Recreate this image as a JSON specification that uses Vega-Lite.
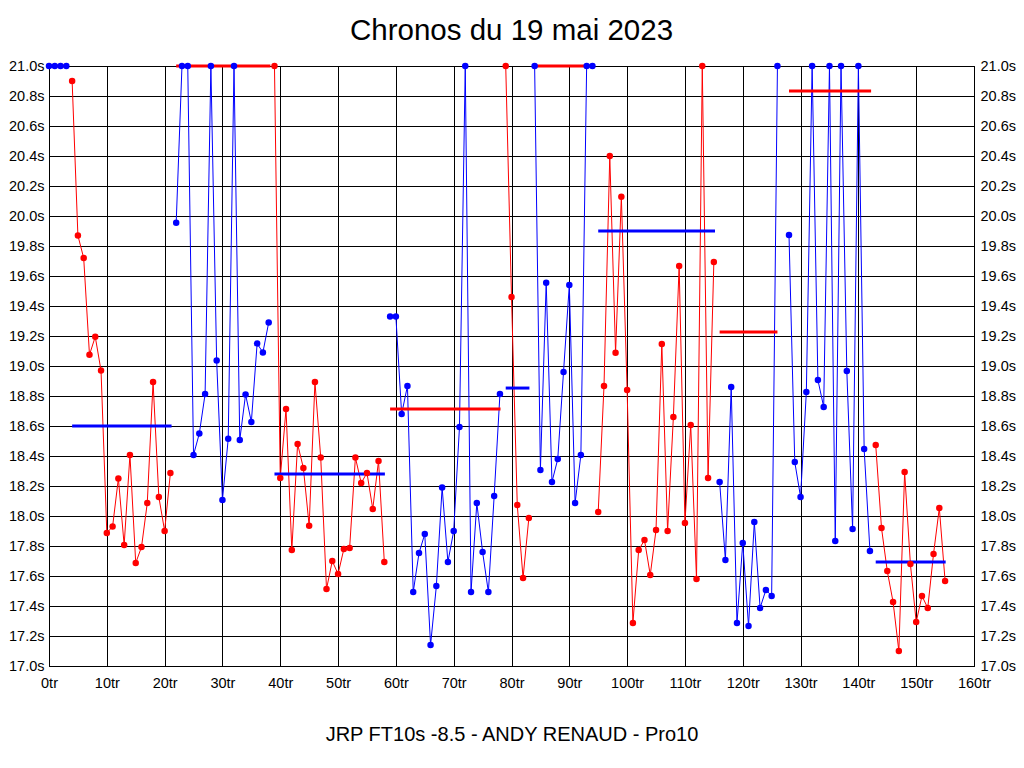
{
  "$schema": "https://vega.github.io/schema/vega-lite/v6.json",
  "width": 925,
  "height": 600,
  "autosize": {"type": "none"},
  "padding": {"left": 49, "top": 66, "right": 50, "bottom": 102},
  "background": "white",
  "title": {"text": "Chronos du 19 mai 2023", "font": "Liberation Sans", "fontSize": 29.5, "fontWeight": "normal", "color": "black", "frame": "group", "anchor": "middle", "baseline": "alphabetic", "offset": 25, "dy": 36},
  "config": {
    "view": {"stroke": "black", "strokeWidth": 1},
    "axis": {"labelFont": "Liberation Sans", "labelFontSize": 14.5, "labelColor": "black", "domainColor": "black", "domainWidth": 1, "gridColor": "black", "gridOpacity": 1, "gridWidth": 1, "ticks": false, "labelFlush": false, "labelOverlap": false}
  },
  "datasets": {
    "pts": [
      {"lap":0,"t":21.0,"seg":0,"c":"b"},{"lap":1,"t":21.0,"seg":0,"c":"b"},{"lap":2,"t":21.0,"seg":0,"c":"b"},{"lap":3,"t":21.0,"seg":0,"c":"b"},
      {"lap":4,"t":20.90,"seg":1,"c":"r"},{"lap":5,"t":19.87,"seg":1,"c":"r"},{"lap":6,"t":19.72,"seg":1,"c":"r"},{"lap":7,"t":19.075,"seg":1,"c":"r"},{"lap":8,"t":19.195,"seg":1,"c":"r"},{"lap":9,"t":18.97,"seg":1,"c":"r"},{"lap":10,"t":17.887,"seg":1,"c":"r"},{"lap":11,"t":17.93,"seg":1,"c":"r"},{"lap":12,"t":18.25,"seg":1,"c":"r"},{"lap":13,"t":17.807,"seg":1,"c":"r"},{"lap":14,"t":18.407,"seg":1,"c":"r"},{"lap":15,"t":17.687,"seg":1,"c":"r"},{"lap":16,"t":17.793,"seg":1,"c":"r"},{"lap":17,"t":18.087,"seg":1,"c":"r"},{"lap":18,"t":18.893,"seg":1,"c":"r"},{"lap":19,"t":18.127,"seg":1,"c":"r"},{"lap":20,"t":17.90,"seg":1,"c":"r"},{"lap":21,"t":18.287,"seg":1,"c":"r"},
      {"lap":22,"t":19.955,"seg":2,"c":"b"},{"lap":23,"t":21.0,"seg":2,"c":"b"},{"lap":24,"t":21.0,"seg":2,"c":"b"},{"lap":25,"t":18.407,"seg":2,"c":"b"},{"lap":26,"t":18.55,"seg":2,"c":"b"},{"lap":27,"t":18.813,"seg":2,"c":"b"},{"lap":28,"t":21.0,"seg":2,"c":"b"},{"lap":29,"t":19.037,"seg":2,"c":"b"},{"lap":30,"t":18.107,"seg":2,"c":"b"},{"lap":31,"t":18.515,"seg":2,"c":"b"},{"lap":32,"t":21.0,"seg":2,"c":"b"},{"lap":33,"t":18.507,"seg":2,"c":"b"},{"lap":34,"t":18.81,"seg":2,"c":"b"},{"lap":35,"t":18.627,"seg":2,"c":"b"},{"lap":36,"t":19.15,"seg":2,"c":"b"},{"lap":37,"t":19.09,"seg":2,"c":"b"},{"lap":38,"t":19.29,"seg":2,"c":"b"},
      {"lap":39,"t":21.0,"seg":3,"c":"r"},{"lap":40,"t":18.253,"seg":3,"c":"r"},{"lap":41,"t":18.713,"seg":3,"c":"r"},{"lap":42,"t":17.773,"seg":3,"c":"r"},{"lap":43,"t":18.48,"seg":3,"c":"r"},{"lap":44,"t":18.32,"seg":3,"c":"r"},{"lap":45,"t":17.935,"seg":3,"c":"r"},{"lap":46,"t":18.893,"seg":3,"c":"r"},{"lap":47,"t":18.39,"seg":3,"c":"r"},{"lap":48,"t":17.513,"seg":3,"c":"r"},{"lap":49,"t":17.70,"seg":3,"c":"r"},{"lap":50,"t":17.613,"seg":3,"c":"r"},{"lap":51,"t":17.78,"seg":3,"c":"r"},{"lap":52,"t":17.787,"seg":3,"c":"r"},{"lap":53,"t":18.39,"seg":3,"c":"r"},{"lap":54,"t":18.22,"seg":3,"c":"r"},{"lap":55,"t":18.287,"seg":3,"c":"r"},{"lap":56,"t":18.047,"seg":3,"c":"r"},{"lap":57,"t":18.367,"seg":3,"c":"r"},{"lap":58,"t":17.693,"seg":3,"c":"r"},
      {"lap":59,"t":19.33,"seg":4,"c":"b"},{"lap":60,"t":19.33,"seg":4,"c":"b"},{"lap":61,"t":18.68,"seg":4,"c":"b"},{"lap":62,"t":18.867,"seg":4,"c":"b"},{"lap":63,"t":17.493,"seg":4,"c":"b"},{"lap":64,"t":17.753,"seg":4,"c":"b"},{"lap":65,"t":17.88,"seg":4,"c":"b"},{"lap":66,"t":17.14,"seg":4,"c":"b"},{"lap":67,"t":17.533,"seg":4,"c":"b"},{"lap":68,"t":18.19,"seg":4,"c":"b"},{"lap":69,"t":17.693,"seg":4,"c":"b"},{"lap":70,"t":17.90,"seg":4,"c":"b"},{"lap":71,"t":18.593,"seg":4,"c":"b"},{"lap":72,"t":21.0,"seg":4,"c":"b"},{"lap":73,"t":17.493,"seg":4,"c":"b"},{"lap":74,"t":18.087,"seg":4,"c":"b"},{"lap":75,"t":17.76,"seg":4,"c":"b"},{"lap":76,"t":17.493,"seg":4,"c":"b"},{"lap":77,"t":18.133,"seg":4,"c":"b"},{"lap":78,"t":18.813,"seg":4,"c":"b"},
      {"lap":79,"t":21.0,"seg":5,"c":"r"},{"lap":80,"t":19.46,"seg":5,"c":"r"},{"lap":81,"t":18.073,"seg":5,"c":"r"},{"lap":82,"t":17.587,"seg":5,"c":"r"},{"lap":83,"t":17.987,"seg":5,"c":"r"},
      {"lap":84,"t":21.0,"seg":6,"c":"b"},{"lap":85,"t":18.307,"seg":6,"c":"b"},{"lap":86,"t":19.555,"seg":6,"c":"b"},{"lap":87,"t":18.227,"seg":6,"c":"b"},{"lap":88,"t":18.38,"seg":6,"c":"b"},{"lap":89,"t":18.96,"seg":6,"c":"b"},{"lap":90,"t":19.54,"seg":6,"c":"b"},{"lap":91,"t":18.087,"seg":6,"c":"b"},{"lap":92,"t":18.407,"seg":6,"c":"b"},{"lap":93,"t":21.0,"seg":6,"c":"b"},{"lap":94,"t":21.0,"seg":6,"c":"b"},
      {"lap":95,"t":18.027,"seg":7,"c":"r"},{"lap":96,"t":18.867,"seg":7,"c":"r"},{"lap":97,"t":20.40,"seg":7,"c":"r"},{"lap":98,"t":19.089,"seg":7,"c":"r"},{"lap":99,"t":20.129,"seg":7,"c":"r"},{"lap":100,"t":18.84,"seg":7,"c":"r"},{"lap":101,"t":17.287,"seg":7,"c":"r"},{"lap":102,"t":17.773,"seg":7,"c":"r"},{"lap":103,"t":17.84,"seg":7,"c":"r"},{"lap":104,"t":17.607,"seg":7,"c":"r"},{"lap":105,"t":17.907,"seg":7,"c":"r"},{"lap":106,"t":19.147,"seg":7,"c":"r"},{"lap":107,"t":17.90,"seg":7,"c":"r"},{"lap":108,"t":18.66,"seg":7,"c":"r"},{"lap":109,"t":19.667,"seg":7,"c":"r"},{"lap":110,"t":17.953,"seg":7,"c":"r"},{"lap":111,"t":18.607,"seg":7,"c":"r"},{"lap":112,"t":17.58,"seg":7,"c":"r"},{"lap":113,"t":21.0,"seg":7,"c":"r"},{"lap":114,"t":18.253,"seg":7,"c":"r"},{"lap":115,"t":19.693,"seg":7,"c":"r"},
      {"lap":116,"t":18.227,"seg":8,"c":"b"},{"lap":117,"t":17.707,"seg":8,"c":"b"},{"lap":118,"t":18.86,"seg":8,"c":"b"},{"lap":119,"t":17.287,"seg":8,"c":"b"},{"lap":120,"t":17.82,"seg":8,"c":"b"},{"lap":121,"t":17.267,"seg":8,"c":"b"},{"lap":122,"t":17.96,"seg":8,"c":"b"},{"lap":123,"t":17.387,"seg":8,"c":"b"},{"lap":124,"t":17.507,"seg":8,"c":"b"},{"lap":125,"t":17.467,"seg":8,"c":"b"},{"lap":126,"t":21.0,"seg":8,"c":"b"},
      {"lap":128,"t":19.873,"seg":9,"c":"b"},{"lap":129,"t":18.36,"seg":9,"c":"b"},{"lap":130,"t":18.127,"seg":9,"c":"b"},{"lap":131,"t":18.827,"seg":9,"c":"b"},{"lap":132,"t":21.0,"seg":9,"c":"b"},{"lap":133,"t":18.907,"seg":9,"c":"b"},{"lap":134,"t":18.727,"seg":9,"c":"b"},{"lap":135,"t":21.0,"seg":9,"c":"b"},{"lap":136,"t":17.833,"seg":9,"c":"b"},{"lap":137,"t":21.0,"seg":9,"c":"b"},{"lap":138,"t":18.967,"seg":9,"c":"b"},{"lap":139,"t":17.913,"seg":9,"c":"b"},{"lap":140,"t":21.0,"seg":9,"c":"b"},{"lap":141,"t":18.447,"seg":9,"c":"b"},{"lap":142,"t":17.767,"seg":9,"c":"b"},
      {"lap":143,"t":18.473,"seg":10,"c":"r"},{"lap":144,"t":17.92,"seg":10,"c":"r"},{"lap":145,"t":17.633,"seg":10,"c":"r"},{"lap":146,"t":17.427,"seg":10,"c":"r"},{"lap":147,"t":17.10,"seg":10,"c":"r"},{"lap":148,"t":18.293,"seg":10,"c":"r"},{"lap":149,"t":17.68,"seg":10,"c":"r"},{"lap":150,"t":17.293,"seg":10,"c":"r"},{"lap":151,"t":17.467,"seg":10,"c":"r"},{"lap":152,"t":17.387,"seg":10,"c":"r"},{"lap":153,"t":17.747,"seg":10,"c":"r"},{"lap":154,"t":18.053,"seg":10,"c":"r"},{"lap":155,"t":17.567,"seg":10,"c":"r"}
    ],
    "avg": [
      {"x1":0,"x2":3,"avg":21.0,"c":"r"},
      {"x1":4,"x2":21.2,"avg":18.60,"c":"b"},
      {"x1":22,"x2":38.3,"avg":21.0,"c":"r"},
      {"x1":39,"x2":58.1,"avg":18.28,"c":"b"},
      {"x1":59,"x2":78.1,"avg":18.713,"c":"r"},
      {"x1":79,"x2":83.1,"avg":18.853,"c":"b"},
      {"x1":84,"x2":94.1,"avg":21.0,"c":"r"},
      {"x1":95,"x2":115.2,"avg":19.90,"c":"b"},
      {"x1":116,"x2":126,"avg":19.227,"c":"r"},
      {"x1":128,"x2":142.2,"avg":20.833,"c":"r"},
      {"x1":143,"x2":155.1,"avg":17.693,"c":"b"}
    ]
  },
  "resolve": {"axis": {"y": "independent"}},
  "layer": [
    {
      "data": {"name": "pts"},
      "mark": {"type": "line", "strokeWidth": 1},
      "encoding": {
        "x": {"field": "lap", "type": "quantitative", "scale": {"domain": [0, 160], "nice": false, "zero": false},
              "axis": {"values": [0,10,20,30,40,50,60,70,80,90,100,110,120,130,140,150,160], "labelExpr": "datum.value + 'tr'", "labelBaseline": "top", "labelPadding": 10, "grid": true,
                       "title": "JRP FT10s -8.5 - ANDY RENAUD - Pro10", "titleFont": "Liberation Sans", "titleFontSize": 20, "titleFontWeight": "normal", "titleColor": "black", "titleBaseline": "alphabetic", "titleY": 74}},
        "y": {"field": "t", "type": "quantitative", "scale": {"domain": [17, 21], "nice": false, "zero": false},
              "axis": {"orient": "left", "values": [17,17.2,17.4,17.6,17.8,18,18.2,18.4,18.6,18.8,19,19.2,19.4,19.6,19.8,20,20.2,20.4,20.6,20.8,21], "labelExpr": "format(datum.value, '.1f') + 's'", "labelPadding": 5, "grid": true, "title": null}},
        "color": {"field": "c", "type": "nominal", "scale": {"domain": ["b", "r"], "range": ["#0000ff", "#ff0000"]}, "legend": null},
        "detail": {"field": "seg", "type": "nominal"},
        "order": {"field": "lap", "type": "quantitative"}
      }
    },
    {
      "data": {"name": "avg"},
      "mark": {"type": "rule", "strokeWidth": 3},
      "encoding": {
        "x": {"field": "x1", "type": "quantitative",
              "axis": {"values": [0,10,20,30,40,50,60,70,80,90,100,110,120,130,140,150,160], "labelExpr": "datum.value + 'tr'", "labelBaseline": "top", "labelPadding": 10, "grid": true,
                       "title": "JRP FT10s -8.5 - ANDY RENAUD - Pro10", "titleFont": "Liberation Sans", "titleFontSize": 20, "titleFontWeight": "normal", "titleColor": "black", "titleBaseline": "alphabetic", "titleY": 74}},
        "x2": {"field": "x2"},
        "y": {"field": "avg", "type": "quantitative", "axis": null},
        "color": {"field": "c", "type": "nominal", "legend": null}
      }
    },
    {
      "data": {"name": "pts"},
      "mark": {"type": "point", "filled": true, "size": 42, "opacity": 1},
      "encoding": {
        "x": {"field": "lap", "type": "quantitative",
              "axis": {"values": [0,10,20,30,40,50,60,70,80,90,100,110,120,130,140,150,160], "labelExpr": "datum.value + 'tr'", "labelBaseline": "top", "labelPadding": 10, "grid": true,
                       "title": "JRP FT10s -8.5 - ANDY RENAUD - Pro10", "titleFont": "Liberation Sans", "titleFontSize": 20, "titleFontWeight": "normal", "titleColor": "black", "titleBaseline": "alphabetic", "titleY": 74}},
        "y": {"field": "t", "type": "quantitative",
              "axis": {"orient": "right", "values": [17,17.2,17.4,17.6,17.8,18,18.2,18.4,18.6,18.8,19,19.2,19.4,19.6,19.8,20,20.2,20.4,20.6,20.8,21], "labelExpr": "format(datum.value, '.1f') + 's'", "labelPadding": 6, "grid": false, "title": null}},
        "color": {"field": "c", "type": "nominal", "legend": null}
      }
    }
  ]
}
